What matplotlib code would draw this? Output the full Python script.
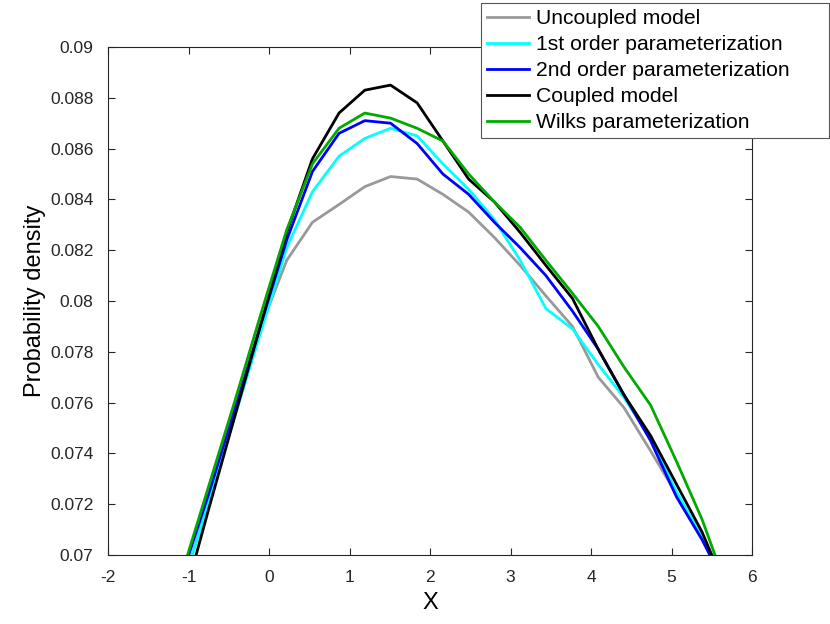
import numpy as np
import matplotlib
matplotlib.use("Agg")
import matplotlib.pyplot as plt
from matplotlib.ticker import FuncFormatter

# bin centres
x = [-1.07, -0.75, -0.43, -0.10, 0.22, 0.54, 0.87, 1.19, 1.51, 1.84, 2.16,
     2.48, 2.80, 3.12, 3.44, 3.77, 4.09, 4.41, 4.74, 5.06, 5.38, 5.70]

uncoupled = [0.0688, 0.0721, 0.0755, 0.0790, 0.0816, 0.0831, 0.0838, 0.0845,
             0.0849, 0.0848, 0.0842, 0.0835, 0.0825, 0.0814, 0.0802, 0.0790,
             0.0770, 0.0758, 0.0741, 0.0724, 0.0707, 0.0688]
first_order = [0.0688, 0.0721, 0.0754, 0.0788, 0.0821, 0.0843, 0.0857, 0.0864,
               0.0868, 0.0865, 0.0854, 0.0844, 0.0832, 0.0816, 0.0797, 0.0789,
               0.0775, 0.0762, 0.0746, 0.0725, 0.0707, 0.0688]
second_order = [0.0693, 0.0724, 0.0757, 0.0791, 0.0824, 0.0851, 0.0866, 0.0871,
                0.0870, 0.0862, 0.0850, 0.0842, 0.0831, 0.0821, 0.0810, 0.0796,
                0.0781, 0.0763, 0.0745, 0.0723, 0.0706, 0.0686]
coupled = [0.0681, 0.0718, 0.0754, 0.0791, 0.0827, 0.0856, 0.0874, 0.0883,
           0.0885, 0.0878, 0.0863, 0.0848, 0.0839, 0.0827, 0.0814, 0.0801,
           0.0781, 0.0763, 0.0747, 0.0728, 0.0709, 0.0685]
wilks = [0.0694, 0.0727, 0.0760, 0.0795, 0.0828, 0.0854, 0.0868, 0.0874,
         0.0872, 0.0868, 0.0863, 0.0850, 0.0839, 0.0829, 0.0816, 0.0803,
         0.0790, 0.0774, 0.0759, 0.0737, 0.0714, 0.0686]

labels = ['Uncoupled model', '1st order parameterization',
          '2nd order parameterization', 'Coupled model',
          'Wilks parameterization']
colors = ['#999999', '#00ffff', '#0000ff', '#000000', '#00aa00']

plt.rcParams['font.family'] = ['Liberation Sans', 'DejaVu Sans']
plt.rcParams['axes.unicode_minus'] = False

fig = plt.figure(figsize=(8.3, 6.24), dpi=100)
ax = fig.add_axes([108 / 830, 1 - 555 / 624, 644 / 830, 508 / 624])

for ys, lab, c in zip([uncoupled, first_order, second_order, coupled, wilks],
                      labels, colors):
    ax.plot(x, ys, color=c, lw=2.0, label=lab)

ax.set_xlim(-2, 6)
ax.set_ylim(0.07, 0.09)
ax.set_xticks(np.arange(-2, 7, 1))
ax.set_yticks(np.arange(0.07, 0.0901, 0.002))
ax.yaxis.set_major_formatter(FuncFormatter(lambda v, p: '%g' % round(v, 4)))

for s in ax.spines.values():
    s.set_color('#262626')
    s.set_linewidth(0.8)
ax.tick_params(direction='in', length=5, width=0.8, top=True, right=True,
               colors='#262626', labelsize=12.5, pad=10.5)

ax.set_xlabel('X', fontsize=17, labelpad=5)
ax.set_ylabel('Probability density', fontsize=17, labelpad=3)

# legend box sticks out over the top right corner, wider than its text
x0, x1 = 480.7 / 830, 829.3 / 830
leg = ax.legend(loc='upper left', mode='expand',
                bbox_to_anchor=(x0, 1 - 2.7 / 624, x1 - x0, 0),
                bbox_transform=fig.transFigure, fontsize=15.2, fancybox=False,
                framealpha=1, edgecolor='#555555', borderaxespad=0,
                borderpad=0.3, labelspacing=0.33, handlelength=2.0,
                handletextpad=0.3)
leg.get_frame().set_linewidth(0.8)

fig.savefig('out.png', dpi=100)
